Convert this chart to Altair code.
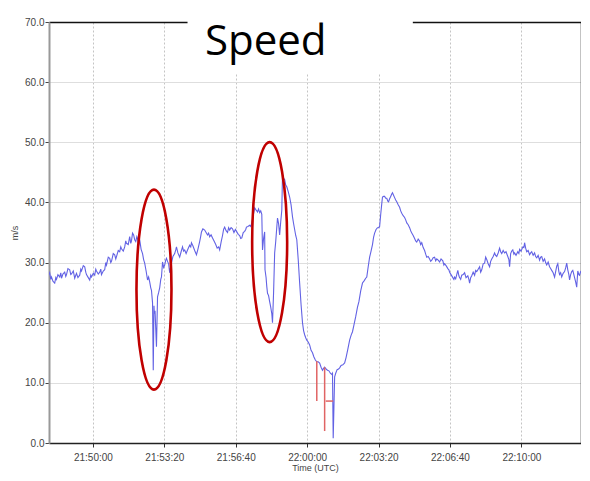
import altair as alt
import pandas as pd

BASE = "2024-01-01 21:50:00"

# seconds relative to 21:50:00, speed in m/s
time_offsets_s = [
    -123, -121, -118, -116, -112, -107, -104, -102, -98, -93, -90, -88, -84, -79, -76, -74, -70, -65, -62, -60,
    -55, -51, -48, -46, -42, -37, -34, -32, -27, -23, -20, -18, -13, -9, -6, -4, 1, 5, 8, 10,
    15, 19, 22, 24, 29, 33, 36, 38, 43, 47, 50, 52, 57, 61, 64, 66, 71, 75, 78, 80,
    85, 89, 92, 94, 99, 103, 106, 108, 111, 114, 117, 120, 123, 125, 128, 131, 135, 139, 142, 145,
    149, 153, 156, 159, 162, 164, 167, 169, 171, 172, 174, 176, 178, 181, 184, 187, 190, 192, 195, 198,
    201, 204, 206, 209, 212, 215, 218, 220, 224, 229, 232, 234, 238, 243, 247, 251, 254, 257, 261, 265,
    268, 271, 274, 276, 280, 285, 290, 294, 299, 302, 304, 308, 313, 317, 321, 324, 327, 331, 335, 340,
    344, 348, 352, 355, 359, 363, 366, 369, 373, 377, 380, 383, 387, 391, 395, 399, 403, 407, 411, 414,
    417, 421, 425, 428, 430, 434, 439, 442, 445, 449, 453, 456, 459, 461, 464, 467, 470, 473, 475, 478,
    481, 482, 485, 487, 489, 492, 495, 498, 501, 503, 506, 509, 512, 515, 517, 520, 523, 526, 529, 531,
    534, 537, 540, 543, 547, 551, 555, 559, 562, 565, 568, 571, 575, 579, 583, 587, 590, 593, 596, 599,
    603, 607, 611, 615, 619, 623, 627, 631, 635, 639, 643, 646, 649, 653, 657, 661, 665, 669, 671, 673,
    677, 680, 684, 688, 691, 695, 700, 705, 709, 714, 719, 723, 727, 731, 736, 741, 745, 750, 755, 760,
    764, 767, 771, 775, 779, 783, 786, 789, 793, 797, 800, 803, 806, 809, 811, 814, 817, 820, 823, 826,
    828, 831, 834, 837, 839, 842, 845, 848, 851, 855, 859, 862, 865, 869, 873, 876, 879, 883, 887, 890,
    893, 897, 901, 904, 907, 911, 915, 918, 921, 925, 929, 932, 935, 939, 943, 946, 949, 953, 957, 960,
    963, 967, 971, 975, 980, 983, 985, 990, 994, 997, 999, 1003, 1008, 1011, 1013, 1016, 1019, 1022, 1025, 1027,
    1030, 1033, 1037, 1041, 1045, 1050, 1053, 1055, 1058, 1061, 1065, 1069, 1072, 1075, 1079, 1083, 1086, 1089, 1093, 1097,
    1100, 1103, 1107, 1111, 1114, 1117, 1121, 1125, 1128, 1131, 1135, 1139, 1142, 1145, 1149, 1153, 1157, 1162, 1165, 1167,
    1170, 1173, 1176, 1179, 1181, 1185, 1190, 1193, 1195, 1199, 1204, 1207, 1209, 1212, 1215, 1219, 1223, 1226, 1229, 1233,
    1237, 1240, 1243, 1247, 1251, 1254, 1257, 1261, 1265, 1268, 1271, 1275, 1279, 1282, 1285, 1289, 1293, 1296, 1299, 1302,
    1305, 1307, 1310, 1313, 1317, 1321, 1324, 1327, 1330, 1333, 1335, 1338, 1341, 1344, 1347, 1349, 1352, 1355, 1358, 1361,
    1363, 1366, 1369, 1372, 1375,
]
speed_ms = [
    28.0, 28.3, 27.2, 27.6, 26.9, 26.6, 27.5, 27.2, 28.0, 27.6, 28.3, 27.4, 28.1, 28.4, 27.7, 28.0, 29.0, 28.8, 28.0, 28.1,
    28.6, 27.4, 27.9, 28.2, 27.5, 27.9, 28.9, 28.6, 29.5, 29.3, 28.4, 28.0, 27.5, 27.1, 27.9, 27.6, 28.2, 27.9, 28.9, 28.6,
    28.1, 28.4, 28.9, 28.0, 28.6, 28.8, 30.0, 29.6, 30.9, 30.7, 30.0, 30.2, 31.5, 31.3, 30.6, 31.0, 32.0, 31.8, 32.6, 32.3,
    31.9, 32.6, 33.6, 33.2, 33.0, 34.3, 33.2, 33.6, 34.9, 34.6, 33.8, 33.5, 34.3, 34.0, 32.8, 33.8, 32.2, 31.5, 30.5, 29.9,
    28.6, 27.1, 27.6, 26.8, 25.8, 25.4, 23.3, 12.1, 22.8, 21.5, 22.0, 19.0, 16.0, 24.3, 25.0, 25.8, 27.2, 27.6, 30.1, 29.2,
    29.6, 30.4, 30.7, 30.2, 29.8, 28.3, 29.4, 29.9, 31.0, 31.5, 32.1, 32.6, 31.6, 30.9, 31.8, 32.6, 31.9, 32.1, 31.5, 32.1,
    32.5, 32.9, 32.6, 33.3, 32.8, 32.0, 31.3, 32.2, 33.5, 34.4, 35.1, 35.6, 35.4, 35.0, 34.6, 34.9, 34.3, 34.6, 34.1, 33.5,
    33.0, 32.4, 32.6, 32.1, 33.4, 34.5, 35.5, 35.9, 35.3, 35.0, 35.8, 35.4, 35.8, 35.6, 35.0, 35.5, 35.1, 34.7, 34.5, 34.0,
    34.1, 35.0, 35.2, 35.5, 35.9, 36.0, 36.2, 36.0, 36.6, 37.8, 39.1, 38.8, 38.6, 38.4, 38.9, 38.3, 38.6, 38.0, 32.1, 34.0,
    35.1, 28.8, 27.5, 26.0, 24.9, 24.5, 23.5, 22.6, 21.5, 20.0, 25.0, 31.6, 33.5, 35.9, 37.4, 36.5, 34.6, 36.8, 38.7, 44.6,
    44.0, 43.8, 42.9, 42.6, 41.8, 40.9, 39.6, 37.6, 36.5, 35.5, 34.5, 33.8, 30.5, 26.6, 23.0, 20.0, 18.7, 18.0, 17.5, 17.1,
    16.8, 16.3, 15.4, 15.0, 14.3, 13.8, 13.5, 13.5, 13.3, 12.6, 12.1, 12.4, 12.6, 12.3, 12.1, 12.0, 11.6, 11.4, 11.6, 0.8,
    11.0, 11.6, 12.2, 12.3, 12.5, 12.9, 13.0, 13.3, 14.2, 15.6, 17.1, 17.9, 18.5, 19.6, 21.0, 22.6, 23.5, 25.3, 26.6, 27.0,
    27.4, 27.6, 29.3, 30.9, 31.9, 33.0, 34.2, 34.9, 35.5, 35.8, 35.8, 36.0, 38.0, 39.8, 40.9, 41.0, 41.0, 40.7, 40.7, 40.2,
    40.1, 40.6, 41.0, 41.4, 41.6, 41.2, 40.8, 40.4, 40.1, 39.6, 39.2, 38.6, 38.2, 37.8, 37.5, 37.1, 36.6, 36.3, 35.8, 35.3,
    34.9, 34.5, 34.0, 33.6, 33.4, 33.9, 33.6, 33.0, 33.3, 32.5, 32.0, 31.4, 30.9, 31.0, 30.6, 30.2, 30.4, 30.8, 30.9, 30.3,
    30.6, 30.4, 30.1, 30.6, 30.3, 29.6, 29.8, 29.4, 29.0, 28.8, 28.4, 28.0, 27.5, 27.2, 27.6, 27.3, 28.0, 28.7, 27.8, 27.5,
    27.2, 27.9, 28.0, 28.3, 27.5, 27.8, 27.2, 26.6, 27.5, 27.8, 28.4, 27.9, 28.7, 28.5, 28.9, 29.3, 28.4, 28.8, 29.8, 29.9,
    30.9, 30.5, 29.8, 29.3, 30.2, 30.6, 31.0, 31.6, 31.2, 31.0, 31.6, 32.4, 31.8, 31.5, 32.0, 31.6, 31.8, 31.0, 30.5, 29.3,
    31.5, 31.9, 32.1, 31.4, 31.6, 31.2, 31.8, 31.5, 32.2, 31.9, 32.6, 32.5, 33.3, 32.4, 31.8, 32.0, 31.3, 31.6, 31.8, 31.2,
    31.6, 31.0, 30.8, 31.2, 30.4, 30.9, 31.0, 30.2, 30.6, 30.0, 29.6, 30.1, 29.3, 29.0, 28.7, 28.3, 27.6, 28.5, 29.4, 29.8,
    28.5, 28.0, 28.3, 27.6, 28.2, 28.5, 29.1, 29.9, 28.8, 28.0, 27.1, 28.0, 28.5, 28.7, 28.0, 27.5, 26.8, 25.9, 28.6, 28.0,
    27.9, 28.5, 28.3, 28.0, 28.5,
]

# red secondary trace (three short segments)
red_offsets_s = [627, 627, 649, 649, 652, 673]
red_speed = [13.6, 6.97, 12.6, 1.99, 6.97, 6.97]
red_segment = [1, 1, 2, 2, 3, 3]

x_tick_labels = ["21:50:00", "21:53:20", "21:56:40", "22:00:00", "22:03:20", "22:06:40", "22:10:00"]
x_domain_times = ["21:47:57", "22:12:47"]
y_ticks = [0, 10, 20, 30, 40, 50, 60, 70]
y_domain = [0, 70]

title_text = ["Speed"]
title_time = ["21:58:04"]
title_speed = [64.5]
title_box_start = ["21:54:25"]
title_box_end = ["22:04:56"]
title_box_low = [61.4]
title_box_high = [72.0]

ellipse_times = ["21:52:51", "21:58:15"]
ellipse_speeds = [25.5, 33.4]


def dt(hms):
    h, m, s = map(int, hms.split(":"))
    return alt.DateTime(year=2024, month=1, date=1, hours=h, minutes=m, seconds=s)


def iso(hms):
    return "2024-01-01T" + hms


def offsets_to_iso(offs):
    return list((pd.Timestamp(BASE) + pd.to_timedelta(offs, unit="s")).strftime("%Y-%m-%dT%H:%M:%S"))


main_df = pd.DataFrame({"time": offsets_to_iso(time_offsets_s), "speed": speed_ms})
red_df = pd.DataFrame({"time": offsets_to_iso(red_offsets_s), "speed": red_speed, "seg": red_segment})
box_df = pd.DataFrame({"t0": [iso(t) for t in title_box_start], "t1": [iso(t) for t in title_box_end],
                       "lo": title_box_low, "hi": title_box_high})
text_df = pd.DataFrame({"time": [iso(t) for t in title_time], "speed": title_speed, "label": title_text})
ell_df = pd.DataFrame({"time": [iso(t) for t in ellipse_times], "speed": ellipse_speeds})

xscale = alt.Scale(domain=[dt(t) for t in x_domain_times])
yscale = alt.Scale(domain=y_domain, nice=False, zero=False)

LABEL_FONT = "Liberation Sans"

x_main = alt.X("time:T", scale=xscale, axis=alt.Axis(
    orient="bottom", values=[dt(t) for t in x_tick_labels], format="%H:%M:%S", title="Time (UTC)",
    grid=True, gridColor="#c4c4c4", gridDash=[2, 2], gridWidth=1,
    domainColor="#222222", domainWidth=1.5, tickColor="#333333", tickSize=4, tickWidth=1,
    labelFont=LABEL_FONT, labelFontSize=10, labelColor="#444444", labelPadding=5, labelFlush=False,
    titleFont=LABEL_FONT, titleFontSize=9, titleFontWeight="normal", titleColor="#444444", titlePadding=1))
y_main = alt.Y("speed:Q", scale=yscale, axis=alt.Axis(
    orient="left", values=y_ticks, format=".1f", title="m/s",
    grid=True, gridColor="#dedede", gridWidth=1,
    domainColor="#999999", domainWidth=2, tickColor="#444444", tickSize=4, tickWidth=1,
    labelFont=LABEL_FONT, labelFontSize=10, labelColor="#444444", labelPadding=1,
    titleFont=LABEL_FONT, titleFontSize=9, titleFontWeight="normal", titleColor="#444444", titlePadding=5))

line = alt.Chart(main_df).mark_line(color="#6262e4", strokeWidth=1.1, clip=True).encode(x=x_main, y=y_main)

red = alt.Chart(red_df).mark_line(color="#e06464", strokeWidth=1.5).encode(
    x=alt.X("time:T", scale=xscale, axis=None),
    y=alt.Y("speed:Q", scale=yscale, axis=None),
    detail="seg:N")

frame = alt.Chart(main_df).mark_line(opacity=0).encode(
    x=alt.X("time:T", scale=xscale, axis=alt.Axis(orient="top", labels=False, ticks=False, grid=False,
                                                   title=None, domainColor="#111111", domainWidth=1.5)),
    y=alt.Y("speed:Q", scale=yscale, axis=alt.Axis(orient="right", labels=False, ticks=False, grid=False,
                                                    title=None, domainColor="#111111", domainWidth=1.5)))

box = alt.Chart(box_df).mark_rect(color="white", clip=False).encode(
    x=alt.X("t0:T", scale=xscale, axis=None), x2="t1:T",
    y=alt.Y("lo:Q", scale=yscale, axis=None), y2="hi:Q")

title = alt.Chart(text_df).mark_text(font="Open Sans", fontSize=42, align="center", baseline="alphabetic",
                                     color="black", clip=False).encode(
    x=alt.X("time:T", scale=xscale, axis=None),
    y=alt.Y("speed:Q", scale=yscale, axis=None),
    text="label:N")

ELLIPSE = ("M0,-1C0.0967,-1,0.175,-0.5523,0.175,0C0.175,0.5523,0.0967,1,0,1"
           "C-0.0967,1,-0.175,0.5523,-0.175,0C-0.175,-0.5523,-0.0967,-1,0,-1Z")
ellipses = alt.Chart(ell_df).mark_point(shape=ELLIPSE, size=40000, filled=False, color="#c00000",
                                        strokeWidth=2.6, opacity=1, clip=False).encode(
    x=alt.X("time:T", scale=xscale, axis=None),
    y=alt.Y("speed:Q", scale=yscale, axis=None))

chart = alt.layer(line, red, frame, box, title, ellipses).resolve_axis(
    x="independent", y="independent"
).properties(
    width=532, height=421,
    padding={"left": 41, "top": 14, "right": 0, "bottom": 30},
    autosize=alt.AutoSizeParams(type="none"),
    background="white",
).configure_view(strokeWidth=0)

chart.save("out.html", embed_options={"renderer": "svg", "actions": False})
